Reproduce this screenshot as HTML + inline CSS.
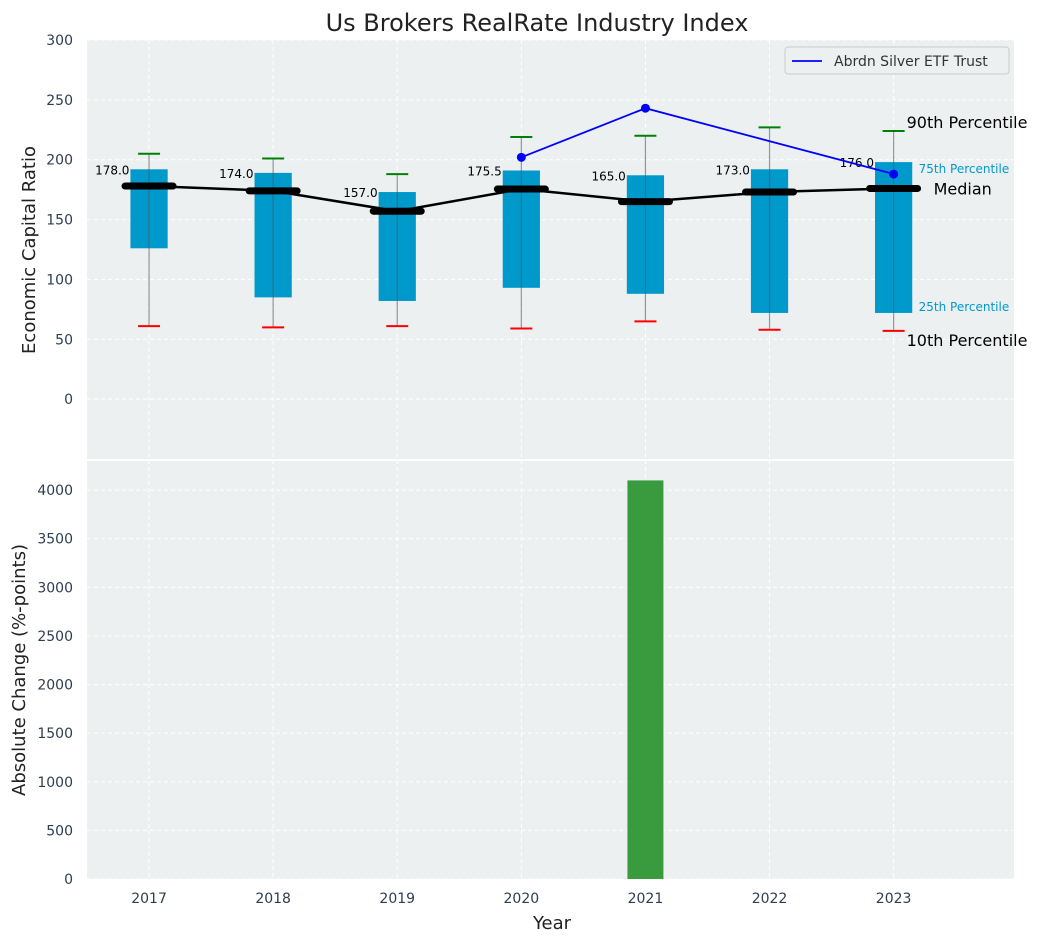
<!DOCTYPE html>
<html><head><meta charset="utf-8"><style>
body{margin:0;background:#fff;font-family:"DejaVu Sans","Liberation Sans",sans-serif}
</style></head><body>
<svg id="c" width="1041" height="942" xmlns="http://www.w3.org/2000/svg" font-family="DejaVu Sans, Liberation Sans, sans-serif"></svg>
<script>
const years=[2017,2018,2019,2020,2021,2022,2023];
const q1=[126,85,82,93,88,72,72];
const q3=[192,189,173,191,187,192,198];
const medians=[178,174,157,175.5,165,173,176];
const p10=[61,60,61,59,65,58,57];
const p90=[205,201,188,219,220,227,224];
const silverYears=[2020,2021,2023];
const silverVals=[202,243,188];
const changeYears=[2021];
const changeVals=[4100];
const topTicks=[0,50,100,150,200,250,300];
const botTicks=[0,500,1000,1500,2000,2500,3000,3500,4000];

const svg=document.getElementById('c');const NS='http://www.w3.org/2000/svg';
function el(t,a,p){const e=document.createElementNS(NS,t);for(const k in a)e.setAttribute(k,a[k]);(p||svg).appendChild(e);return e;}
const L=87,R=1014;
const x=i=>L+(i+0.5)*(R-L)/7.47;
const xy=y=>x(years.indexOf(y));
const T0=40,T1=459,yT=v=>T1-(v+50)/350*(T1-T0);
const B0=460,B1=879,yB=v=>B1-v/4310*(B1-B0);

let g=el('rect',{x:L,y:T0,width:R-L,height:T1-T0,fill:'#ecf0f1'});

g=el('rect',{x:L,y:B0+1,width:R-L,height:B1-B0-1,fill:'#ecf0f1'});

years.forEach((y,i)=>{[[T0,T1],[B0,B1]].forEach(r=>el('line',{x1:x(i),x2:x(i),y1:r[0],y2:r[1],stroke:'#fff','stroke-dasharray':'4,3','stroke-width':1}));
 const t=el('text',{x:x(i),y:903,'text-anchor':'middle','font-size':14,fill:'#2c3e50'});t.textContent=y;
 });
topTicks.forEach(v=>{el('line',{x1:L,x2:R,y1:yT(v),y2:yT(v),stroke:'#fff','stroke-dasharray':'4,3'});
 const t=el('text',{x:73,y:yT(v)+5,'text-anchor':'end','font-size':14,fill:'#2c3e50'});t.textContent=v;
 });
botTicks.forEach(v=>{el('line',{x1:L,x2:R,y1:yB(v),y2:yB(v),stroke:'#fff','stroke-dasharray':'4,3'});
 const t=el('text',{x:73,y:yB(v)+5,'text-anchor':'end','font-size':14,fill:'#2c3e50'});t.textContent=v;
 });
const bw=0.3*(R-L)/7.47;
years.forEach((y,i)=>{const cx=x(i);
 let r=el('rect',{x:cx-bw/2,y:yT(q3[i]),width:bw,height:yT(q1[i])-yT(q3[i]),fill:'#0099cc'});
 
 el('line',{x1:cx,x2:cx,y1:yT(p10[i]),y2:yT(p90[i]),stroke:'#555','stroke-opacity':0.6,'stroke-width':1.2});
 el('line',{x1:cx-11,x2:cx+11,y1:yT(p90[i]),y2:yT(p90[i]),stroke:'green','stroke-width':2});
 el('line',{x1:cx-11,x2:cx+11,y1:yT(p10[i]),y2:yT(p10[i]),stroke:'red','stroke-width':2});
});
let pts=years.map((y,i)=>x(i)+','+yT(medians[i])).join(' ');
g=el('polyline',{points:pts,fill:'none',stroke:'#000','stroke-width':2.5});

years.forEach((y,i)=>{const cx=x(i);
 el('line',{x1:cx-24,x2:cx+24,y1:yT(medians[i]),y2:yT(medians[i]),stroke:'#000','stroke-width':7,'stroke-linecap':'round'});
 const t=el('text',{x:cx-bw/2-1,y:yT(q3[i])+5,'text-anchor':'end','font-size':12,fill:'#000'});t.textContent=medians[i].toFixed(1);
 });
g=el('polyline',{points:silverYears.map((y,i)=>xy(y)+','+yT(silverVals[i])).join(' '),fill:'none',stroke:'blue','stroke-width':1.8});

silverYears.forEach((y,i)=>el('circle',{cx:xy(y),cy:yT(silverVals[i]),r:4.5,fill:'blue'}));
const lx=x(6);
[['90th Percentile',lx+13,yT(p90[6])-3,16,'#000'],['75th Percentile',lx+25,yT(q3[6])+11,12,'#0099cc'],['Median',lx+40,yT(medians[6])+6,16,'#000'],['25th Percentile',lx+25,yT(q1[6])-2,12,'#0099cc'],['10th Percentile',lx+13,yT(p10[6])+15,16,'#000']].forEach(a=>{
 const t=el('text',{x:a[1],y:a[2],'font-size':a[3],fill:a[4]});t.textContent=a[0];
 });
g=el('g',{});
el('rect',{x:785,y:47,width:224,height:27,rx:3,fill:'#ecf0f1',stroke:'#ccc'},g);
el('line',{x1:792,x2:822,y1:61,y2:61,stroke:'blue','stroke-width':1.8},g);
let t=el('text',{x:834,y:66,'font-size':14,fill:'#333'},g);t.textContent='Abrdn Silver ETF Trust';
const barW=0.29*(R-L)/7.47;
changeYears.forEach((y,i)=>{const r=el('rect',{x:xy(y)-barW/2,y:yB(changeVals[i]),width:barW,height:B1-yB(changeVals[i]),fill:'#3a9b3e'});
 });
t=el('text',{x:537,y:31,'text-anchor':'middle','font-size':24,fill:'#222'});t.textContent='Us Brokers RealRate Industry Index';

t=el('text',{x:35,y:250,'text-anchor':'middle','font-size':18,fill:'#222',transform:'rotate(-90 35 250)'});t.textContent='Economic Capital Ratio';

t=el('text',{x:25,y:670,'text-anchor':'middle','font-size':18,fill:'#222',transform:'rotate(-90 25 670)'});t.textContent='Absolute Change (%-points)';

t=el('text',{x:552,y:929,'text-anchor':'middle','font-size':18,fill:'#222'});t.textContent='Year';

</script>
</body></html>
